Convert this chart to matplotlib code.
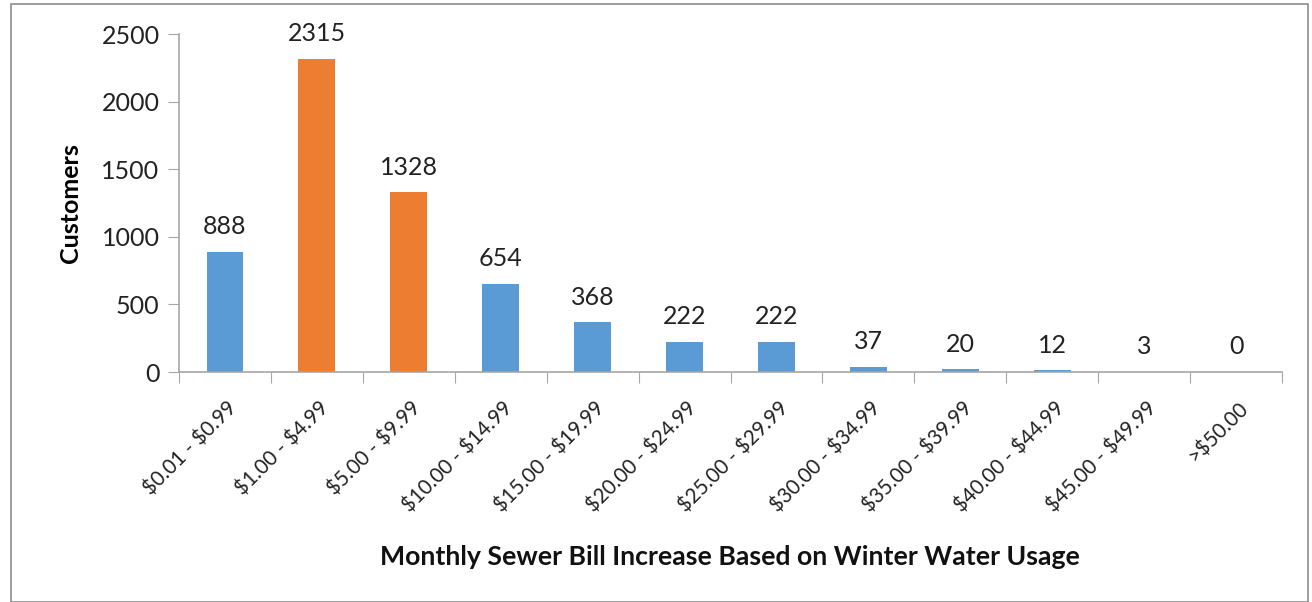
import matplotlib.pyplot as plt
from matplotlib.patches import Rectangle

categories = ['$0.01 - $0.99', '$1.00 - $4.99', '$5.00 - $9.99', '$10.00 - $14.99',
              '$15.00 - $19.99', '$20.00 - $24.99', '$25.00 - $29.99', '$30.00 - $34.99',
              '$35.00 - $39.99', '$40.00 - $44.99', '$45.00 - $49.99', '>$50.00']
customers = [888, 2315, 1328, 654, 368, 222, 222, 37, 20, 12, 3, 0]
highlight = [False, True, True, False, False, False, False, False, False, False, False, False]

blue = '#5B9BD5'
orange = '#ED7D31'
grey = '#A6A6A6'

plt.rcParams['font.family'] = ['Lato', 'DejaVu Sans']
plt.rcParams['text.parse_math'] = False

fig = plt.figure(figsize=(13.12, 6.02), dpi=100)
fig.patches.append(Rectangle((11 / 1312, 0), 1297 / 1312, 598 / 602, transform=fig.transFigure,
                             fill=False, edgecolor='#8C8C8C', linewidth=1.2))
ax = fig.add_axes([179 / 1312, 1 - 372 / 602, (1282 - 179) / 1312, (372 - 34) / 602])

x = list(range(len(categories)))
colors = [orange if h else blue for h in highlight]
bars = ax.bar(x, customers, width=0.4, color=colors)

for xi, v in zip(x, customers):
    ax.text(xi, v + 100, str(v), ha='center', va='bottom', fontsize=18, color='#222222')

ax.set_xlim(-0.5, len(categories) - 0.5)
ax.set_ylim(0, 2500)
ax.set_yticks(range(0, 2501, 500))
ax.tick_params(axis='y', labelsize=18, length=8, color=grey, labelcolor='#222222', pad=6)

ax.set_xticks([i - 0.5 for i in range(len(categories) + 1)])
ax.set_xticklabels([])
ax.tick_params(axis='x', length=8, color=grey)
for xi, lab in zip(x, categories):
    ax.text(xi + 0.1, -245, lab, rotation=45, ha='right', va='center', rotation_mode='anchor',
            fontsize=14.8, color='#222222')

for s in ['top', 'right']:
    ax.spines[s].set_visible(False)
for s in ['left', 'bottom']:
    ax.spines[s].set_color(grey)
    ax.spines[s].set_linewidth(1.2)

ax.set_ylabel('Customers', fontsize=18, fontweight='bold', labelpad=14)
fig.text(730 / 1312, 1 - 557 / 602, 'Monthly Sewer Bill Increase Based on Winter Water Usage',
         ha='center', va='center', fontsize=19.2, fontweight='bold', color='#111111')

fig.savefig('out.png', dpi=100)
